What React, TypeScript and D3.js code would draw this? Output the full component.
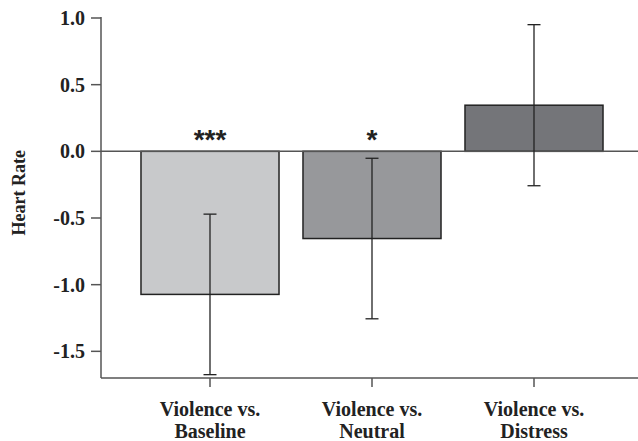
import React from "react";
import * as d3 from "d3";

const categories = ["Violence vs.|Baseline", "Violence vs.|Neutral", "Violence vs.|Distress"];
const means = [-1.073, -0.654, 0.346];
const errors = [0.602, 0.602, 0.604];
const stars = ["***", "*", ""];
const barColors = ["#c8c9cb", "#97989b", "#747579"];
const yTicks = [1.0, 0.5, 0.0, -0.5, -1.0, -1.5];

const W = 638;
const H = 441;
const font = "'Liberation Serif', 'Times New Roman', serif";

export default function App() {
  const y = d3.scaleLinear().domain([-1.7, 1.0]).range([378, 18]);
  const x = d3
    .scaleBand<string>()
    .domain(categories)
    .range([129, 615])
    .paddingInner(0.148)
    .paddingOuter(0.074);
  const axisX = 101;
  const axisColor = "#555";
  const ink = "#222";
  const capHalf = 6.5;

  return (
    <svg
      width={W}
      height={H}
      style={{ position: "absolute", left: 0, top: 0, background: "#fff" }}
      fontFamily={font}
    >
      {/* bars */}
      {categories.map((c, i) => {
        const v = means[i];
        const y0 = y(0);
        const y1 = y(v);
        return (
          <rect
            key={c}
            x={x(c)!}
            y={Math.min(y0, y1)}
            width={x.bandwidth()}
            height={Math.abs(y1 - y0)}
            fill={barColors[i]}
            stroke={ink}
            strokeWidth={1.5}
          />
        );
      })}
      {/* zero line */}
      <line x1={axisX} x2={W} y1={y(0)} y2={y(0)} stroke={axisColor} strokeWidth={1.5} />
      {/* error bars */}
      {categories.map((c, i) => {
        const cx = x(c)! + x.bandwidth() / 2;
        const hi = y(means[i] + errors[i]);
        const lo = y(means[i] - errors[i]);
        return (
          <g key={"e" + c} stroke={ink} strokeWidth={1.3}>
            <line x1={cx} x2={cx} y1={hi} y2={lo} />
            <line x1={cx - capHalf} x2={cx + capHalf} y1={hi} y2={hi} />
            <line x1={cx - capHalf} x2={cx + capHalf} y1={lo} y2={lo} />
          </g>
        );
      })}
      {/* significance stars */}
      {categories.map((c, i) => (
        <text
          key={"s" + c}
          x={x(c)! + x.bandwidth() / 2}
          y={y(0) - 2}
          textAnchor="middle"
          fontSize={28}
          fontWeight="bold"
          fontFamily="'Liberation Sans', Arial, sans-serif"
          fill={ink}
        >
          {stars[i]}
        </text>
      ))}
      {/* y axis */}
      <line x1={axisX} x2={axisX} y1={y(1.0) - 1} y2={y(-1.7)} stroke={axisColor} strokeWidth={1.5} />
      {yTicks.map((t) => (
        <g key={"t" + t}>
          <line x1={axisX - 10} x2={axisX} y1={y(t)} y2={y(t)} stroke={axisColor} strokeWidth={1.5} />
          <text
            x={axisX - 16}
            y={y(t)}
            dy="0.35em"
            textAnchor="end"
            fontSize={20}
            fontWeight="bold"
            fill={ink}
          >
            {t.toFixed(1)}
          </text>
        </g>
      ))}
      {/* x axis */}
      <line x1={axisX} x2={W} y1={y(-1.7)} y2={y(-1.7)} stroke={axisColor} strokeWidth={1.5} />
      {categories.map((c) => {
        const cx = x(c)! + x.bandwidth() / 2;
        const lines = c.split("|");
        return (
          <g key={"x" + c}>
            <line x1={cx} x2={cx} y1={y(-1.7)} y2={y(-1.7) + 9} stroke={axisColor} strokeWidth={1.5} />
            {lines.map((l, k) => (
              <text
                key={k}
                x={cx}
                y={416 + k * 21.5}
                textAnchor="middle"
                fontSize={20}
                fontWeight="bold"
                fill={ink}
              >
                {l}
              </text>
            ))}
          </g>
        );
      })}
      {/* y label */}
      <text
        transform={`translate(25, ${y(-0.31)}) rotate(-90)`}
        textAnchor="middle"
        fontSize={18}
        fontWeight="bold"
        fill={ink}
      >
        Heart Rate
      </text>
    </svg>
  );
}
